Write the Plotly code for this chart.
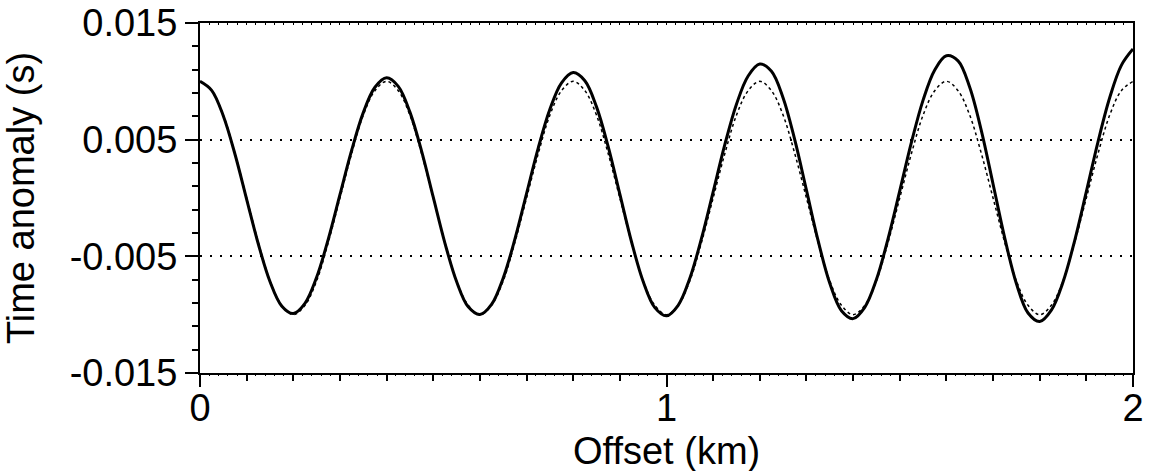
import plotly.graph_objects as go

# Offset (km), sampled every 0.025 km
offset_km = [round(i * 0.025, 3) for i in range(81)]

# Dotted curve: reference time anomaly (s)
dotted_anomaly = [
    0.0100, 0.0092, 0.0071, 0.0038, 0.0000, -0.0038, -0.0071, -0.0092,
    -0.0100, -0.0092, -0.0071, -0.0038, 0.0000, 0.0038, 0.0071, 0.0092,
    0.0100, 0.0092, 0.0071, 0.0038, 0.0000, -0.0038, -0.0071, -0.0092,
    -0.0100, -0.0092, -0.0071, -0.0038, 0.0000, 0.0038, 0.0071, 0.0092,
    0.0100, 0.0092, 0.0071, 0.0038, 0.0000, -0.0038, -0.0071, -0.0092,
    -0.0100, -0.0092, -0.0071, -0.0038, 0.0000, 0.0038, 0.0071, 0.0092,
    0.0100, 0.0092, 0.0071, 0.0038, 0.0000, -0.0038, -0.0071, -0.0092,
    -0.0100, -0.0092, -0.0071, -0.0038, 0.0000, 0.0038, 0.0071, 0.0092,
    0.0100, 0.0092, 0.0071, 0.0038, 0.0000, -0.0038, -0.0071, -0.0092,
    -0.0100, -0.0092, -0.0071, -0.0038, 0.0000, 0.0038, 0.0071, 0.0092,
    0.0100,
]

# Solid curve: computed time anomaly (s)
solid_anomaly = [
    0.01000, 0.00923, 0.00703, 0.00375, -0.00011, -0.00394, -0.00716, -0.00925,
    -0.00990, -0.00903, -0.00680, -0.00353, 0.00028, 0.00408, 0.00732, 0.00949,
    0.01030, 0.00957, 0.00736, 0.00402, 0.00007, -0.00386, -0.00716, -0.00933,
    -0.00999, -0.00912, -0.00685, -0.00353, 0.00038, 0.00428, 0.00760, 0.00987,
    0.01075, 0.01005, 0.00781, 0.00440, 0.00033, -0.00375, -0.00716, -0.00940,
    -0.01010, -0.00920, -0.00688, -0.00347, 0.00053, 0.00457, 0.00804, 0.01046,
    0.01148, 0.01087, 0.00858, 0.00498, 0.00067, -0.00366, -0.00731, -0.00966,
    -0.01034, -0.00937, -0.00699, -0.00348, 0.00061, 0.00476, 0.00839, 0.01098,
    0.01219, 0.01175, 0.00949, 0.00576, 0.00120, -0.00342, -0.00733, -0.00986,
    -0.01059, -0.00961, -0.00720, -0.00365, 0.00054, 0.00482, 0.00859, 0.01137,
    0.01277,
]

y_major_ticks = [-0.015, -0.005, 0.005, 0.015]
y_major_labels = ["-0.015", "-0.005", "0.005", "0.015"]
x_major_ticks = [0, 1, 2]
x_major_labels = ["0", "1", "2"]

FONT = "Liberation Sans, Arial, sans-serif"
FS = 38

fig = go.Figure()
fig.add_trace(go.Scatter(
    x=offset_km, y=dotted_anomaly, mode="lines",
    line=dict(color="black", width=1.5, dash="dot", shape="spline"),
    showlegend=False, xaxis="x", yaxis="y",
))
fig.add_trace(go.Scatter(
    x=offset_km, y=solid_anomaly, mode="lines",
    line=dict(color="black", width=3, shape="spline"),
    showlegend=False, xaxis="x", yaxis="y",
))
# invisible traces to activate helper axes
fig.add_trace(go.Scatter(x=[0, 2], y=[0, 0], mode="lines", line=dict(width=0),
                         showlegend=False, hoverinfo="skip", xaxis="x2", yaxis="y"))
fig.add_trace(go.Scatter(x=[0, 2], y=[0, 0], mode="lines", line=dict(width=0),
                         showlegend=False, hoverinfo="skip", xaxis="x3", yaxis="y"))

fig.update_layout(
    width=1149, height=471,
    margin=dict(l=200, r=16, t=23, b=98, autoexpand=False),
    paper_bgcolor="white", plot_bgcolor="white",
    font=dict(family=FONT, size=FS, color="black"),
    xaxis=dict(
        range=[0, 2], tickmode="array", tickvals=x_major_ticks, ticktext=x_major_labels,
        ticks="outside", ticklen=12, tickwidth=1.5, tickcolor="black",
        ticklabelstandoff=-12,
        showline=True, linecolor="black", linewidth=2, mirror=True,
        showgrid=False, zeroline=False, automargin=False,
        minor=dict(tickmode="linear", tick0=0, dtick=0.1, ticks="outside",
                   ticklen=6, tickwidth=1.5, tickcolor="black", showgrid=False),
        tickfont=dict(size=FS),
    ),
    xaxis2=dict(
        overlaying="x", matches="x", side="bottom", range=[0, 2],
        tickmode="linear", tick0=0, dtick=0.02, ticks="outside", ticklen=2,
        tickwidth=1, tickcolor="black", showticklabels=False, automargin=False,
        showgrid=False, zeroline=False, showline=False,
    ),
    xaxis3=dict(
        overlaying="x", matches="x", side="top", range=[0, 2],
        tickmode="linear", tick0=0, dtick=0.02, ticks="inside", ticklen=2,
        tickwidth=1, tickcolor="black", showticklabels=False, automargin=False,
        showgrid=False, zeroline=False, showline=False,
    ),
    yaxis=dict(
        range=[-0.015, 0.015], tickmode="array", tickvals=y_major_ticks, ticktext=y_major_labels,
        ticks="outside", ticklen=13, tickwidth=1.5, tickcolor="black",
        showline=True, linecolor="black", linewidth=2, mirror=True,
        showgrid=True, gridcolor="black", gridwidth=1.5, griddash="1.5px,8.5px",
        zeroline=False, automargin=False,
        minor=dict(tickmode="linear", tick0=-0.015, dtick=0.002, ticks="outside",
                   ticklen=6, tickwidth=1.5, tickcolor="black", showgrid=False),
        title=dict(text="Time anomaly (s)", font=dict(size=FS), standoff=26),
        tickfont=dict(size=FS),
    ),
    annotations=[dict(
        text="Offset (km)", xref="paper", yref="paper", x=0.5, y=0,
        xanchor="center", yanchor="middle", yshift=-78, showarrow=False,
        font=dict(family=FONT, size=FS, color="black"),
    )],
)

fig.write_html("out.html")
